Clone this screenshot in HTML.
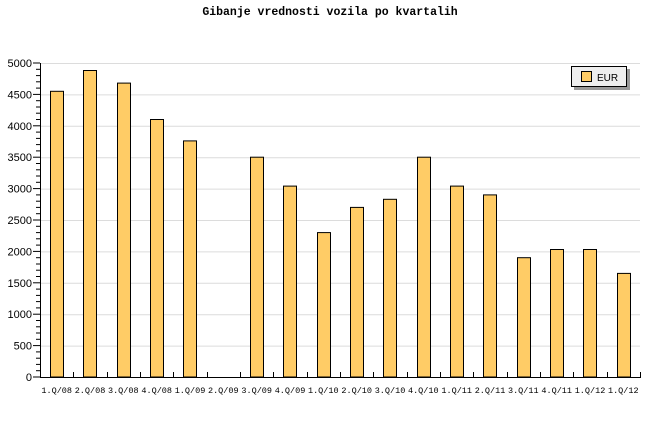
<!DOCTYPE html>
<html><head><meta charset="utf-8"><style>body{margin:0;background:#fff}svg{display:block}</style></head><body>
<svg width="660" height="440" xmlns="http://www.w3.org/2000/svg" font-family="Liberation Mono, DejaVu Sans Mono, monospace">
<rect width="660" height="440" fill="#fff"/>
<text x="330" y="15" text-anchor="middle" font-size="11.5" font-weight="bold">Gibanje vrednosti vozila po kvartalih</text>
<g stroke="#dcdcdc" stroke-width="1">
<line x1="40" x2="640" y1="63.5" y2="63.5"/><line x1="40" x2="640" y1="94.9" y2="94.9"/><line x1="40" x2="640" y1="126.3" y2="126.3"/><line x1="40" x2="640" y1="157.7" y2="157.7"/><line x1="40" x2="640" y1="189.1" y2="189.1"/><line x1="40" x2="640" y1="220.5" y2="220.5"/><line x1="40" x2="640" y1="251.9" y2="251.9"/><line x1="40" x2="640" y1="283.3" y2="283.3"/><line x1="40" x2="640" y1="314.7" y2="314.7"/><line x1="40" x2="640" y1="346.1" y2="346.1"/>
</g>
<g id="bars" fill="#ffcc66" stroke="#000" stroke-width="1"></g>
<g id="axes" stroke="#000" stroke-width="1"></g>
<g id="ylab" font-family="Liberation Sans, sans-serif" font-size="11" text-anchor="end"></g>
<g id="xlab" font-size="8.5" text-anchor="middle"></g>
<rect x="574" y="69" width="56" height="21" fill="#999"/>
<rect x="571.5" y="66.5" width="55" height="20" fill="#eee" stroke="#000"/>
<rect x="581.5" y="71.5" width="10" height="10" fill="#ffcc66" stroke="#000"/>
<text x="597" y="81" font-family="Liberation Sans, sans-serif" font-size="10">EUR</text>
</svg>
<script>
var vals=[4550,4880,4680,4100,3760,0,3500,3040,2300,2700,2830,3500,3040,2900,1900,2030,2030,1650];
var labs=["1.Q/08","2.Q/08","3.Q/08","4.Q/08","1.Q/09","2.Q/09","3.Q/09","4.Q/09","1.Q/10","2.Q/10","3.Q/10","4.Q/10","1.Q/11","2.Q/11","3.Q/11","4.Q/11","1.Q/12","1.Q/12"];
var ns="http://www.w3.org/2000/svg";
function el(p,t,a,txt){var e=document.createElementNS(ns,t);for(var k in a)e.setAttribute(k,a[k]);if(txt!=null)e.textContent=txt;document.getElementById(p).appendChild(e);}
var w=600/18;
vals.forEach(function(v,i){var x=Math.round(40+i*w+10)+0.5;var y=377-v*0.0628;
if(v>0)el("bars","rect",{x:x,y:y.toFixed(1),width:13,height:(377-y).toFixed(1)});
el("xlab","text",{x:(40+i*w+w/2).toFixed(1),y:393},labs[i]);
var tx=Math.round(40+(i+1)*w)+0.5;el("axes","line",{x1:tx,x2:tx,y1:372,y2:377});});
el("axes","line",{x1:40.5,x2:40.5,y1:63,y2:377});
el("axes","line",{x1:40,x2:641,y1:377.5,y2:377.5});
for(var v=0;v<=5000;v+=100){var y=(377-v*0.0628);var big=v%500==0;el("axes","line",{x1:big?33:36,x2:40,y1:y.toFixed(1),y2:y.toFixed(1)});
if(big)el("ylab","text",{x:32,y:(y+4).toFixed(1)},String(v));}
</script>
</body></html>
